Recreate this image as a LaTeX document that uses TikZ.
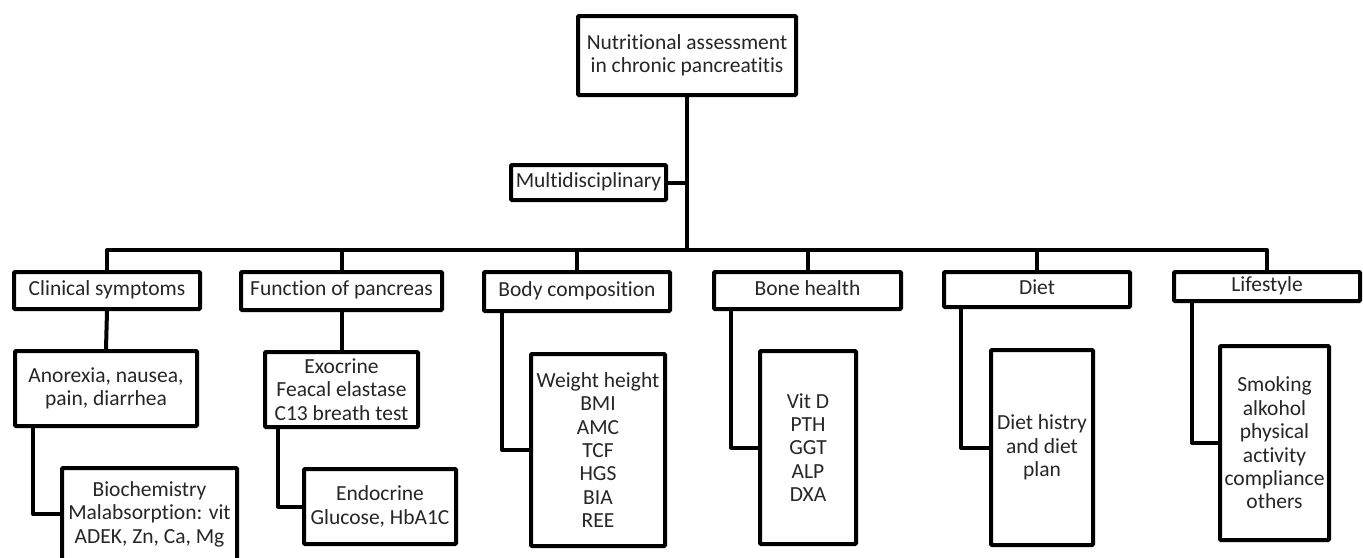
\documentclass[tikz,border=0pt]{standalone}
\usepackage{fontspec}
\setmainfont{Carlito}[Ligatures=NoCommon]
\usetikzlibrary{calc}
\begin{document}
\begin{tikzpicture}[x=1pt,y=-1pt,
  box/.style={draw=black,line width=4pt,rounded corners=1pt,fill=white,align=center,
    inner sep=0pt,text=black!85,font=\fontsize{21.5}{23.4}\selectfont},
  one/.style={text height=14pt,text depth=4.5pt},
  link/.style={draw=black,line width=4pt,line join=round}]
\useasboundingbox (0,0) rectangle (1363,557);
% level 0
\node[box,minimum width=218pt,minimum height=79pt] (top) at (687,55.5) {Nutritional assessment\\in chronic pancreatitis};
\node[box,one,minimum width=155pt,minimum height=35pt] (multi) at (588.5,182.5) {Multidisciplinary};
% level 1
\node[box,one,minimum width=186pt,minimum height=37pt] (clin) at (107,290.5) {Clinical symptoms};
\node[box,one,minimum width=201pt,minimum height=38pt] (func) at (341.5,291) {Function of pancreas};
\node[box,one,minimum width=186pt,minimum height=39pt] (body) at (577,291.5) {Body composition};
\node[box,one,minimum width=187pt,minimum height=37pt] (bone) at (807.5,290.5) {Bone health};
\node[box,one,minimum width=186pt,minimum height=35pt] (diet) at (1037,289.5) {Diet};
\node[box,one,minimum width=186pt,minimum height=29pt] (life) at (1267,286.5) {Lifestyle};
% level 2
\node[box,minimum width=182pt,minimum height=75pt] (anor) at (106,388.5) {Anorexia, nausea,\\pain, diarrhea};
\node[box,minimum width=175pt,minimum height=92pt] (bio) at (149.5,514) {Biochemistry\\Malabsorption: vit\\ADEK, Zn, Ca, Mg};
\node[box,minimum width=153pt,minimum height=75pt] (exo) at (341.5,389.5) {Exocrine\\Feacal elastase\\C13 breath test};
\node[box,minimum width=152pt,minimum height=75pt] (endo) at (380,506.5) {Endocrine\\Glucose, HbA1C};
\node[box,minimum width=134pt,minimum height=192pt] (wt) at (598,450) {Weight height\\BMI\\AMC\\TCF\\HGS\\BIA\\REE};
\node[box,minimum width=96pt,minimum height=193pt] (vit) at (808,447.5) {Vit D\\PTH\\GGT\\ALP\\DXA};
\node[box,minimum width=102pt,minimum height=195pt] (dh) at (1042,447.5) {Diet histry\\and diet\\plan};
\node[box,minimum width=109pt,minimum height=194pt] (smk) at (1274.5,443) {Smoking\\alkohol\\physical\\activity\\compliance\\others};
% connectors
\coordinate (bus) at (0,250);
\draw[link] (top.south) -- (top.south |- bus);
\draw[link] (multi.east) -- (multi.east -| top.south);
\draw[link] (clin.north) -- (clin.north |- bus) -- (life.north |- bus) -- (life.north);
\draw[link] (func.north) -- (func.north |- bus);
\draw[link] (body.north) -- (body.north |- bus);
\draw[link] (bone.north) -- (bone.north |- bus);
\draw[link] (diet.north) -- (diet.north |- bus);
\draw[link] (clin.south) -- (anor.north);
\draw[link] (func.south) -- (exo.north);
\draw[link] ($(anor.south west)+(20,0)$) |- (bio.west);
\draw[link] ($(exo.south west)+(15,0)$) |- (endo.west);
\draw[link] ($(body.south west)+(20,0)$) |- (wt.west);
\draw[link] ($(bone.south west)+(19,0)$) |- (vit.west);
\draw[link] ($(diet.south west)+(19,0)$) |- (dh.west);
\draw[link] ($(life.south west)+(20,0)$) |- (smk.west);
\end{tikzpicture}
\end{document}
